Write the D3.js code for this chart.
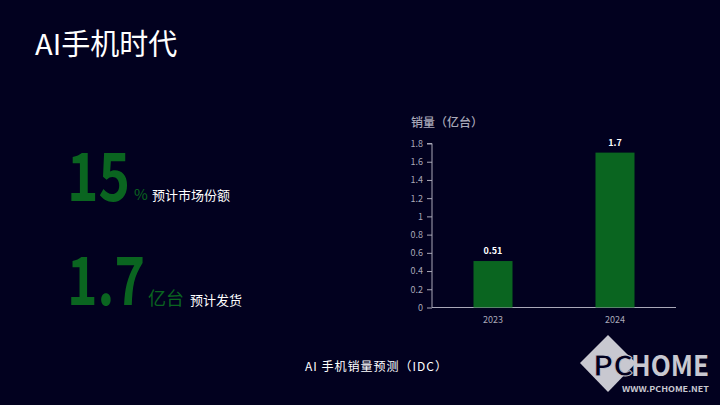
<!DOCTYPE html>
<html><head><meta charset="utf-8">
<script src="https://cdn.jsdelivr.net/npm/d3@7"></script>
<style>
html,body{margin:0;padding:0;background:#02011f;}
svg{display:block;}
text{font-family:"Noto Sans CJK SC","Noto Sans",sans-serif;}
</style></head>
<body>
<script>
const categories = ["2023", "2024"];
const sales = [0.51, 1.7];
const valueLabels = ["0.51", "1.7"];
const yTicks = [0, 0.2, 0.4, 0.6, 0.8, 1, 1.2, 1.4, 1.6, 1.8];

const W = 720, H = 405;
const bg = "#02011f", green = "#0a6520", grey = "#a9a8b8";
const svg = d3.select("body").append("svg").attr("width", W).attr("height", H);
svg.append("rect").attr("width", W).attr("height", H).attr("fill", bg);

// Title
svg.append("text").attr("x", 35).attr("y", 55).attr("fill", "#fff")
  .attr("font-size", 29).attr("font-weight", 400).text("AI手机时代");

// Big stats (horizontally scaled to fit the reference widths)
const bigFont = "'Noto Sans CJK SC',sans-serif";
function bigNumber(str, x, y, targetW) {
  const g = svg.append("g");
  const t = g.append("text").attr("x", 0).attr("y", 0).attr("fill", green)
    .attr("font-size", 66).attr("font-weight", 700).attr("font-family", bigFont).text(str);
  const w = t.node().getComputedTextLength() || targetW;
  g.attr("transform", `translate(${x},${y}) scale(${targetW / w},1)`);
}
bigNumber("15", 67, 201, 63);
svg.append("text").attr("x", 134).attr("y", 200).attr("fill", green)
  .attr("font-size", 15).text("%");
svg.append("text").attr("x", 152).attr("y", 200).attr("fill", "#fff").attr("font-size", 13).text("预计市场份额");

bigNumber("1.7", 67, 305, 78);
svg.append("text").attr("x", 148).attr("y", 305).attr("fill", green)
  .attr("font-size", 18).text("亿台");
svg.append("text").attr("x", 190).attr("y", 305).attr("fill", "#fff").attr("font-size", 13).text("预计发货");

// Chart
const x0 = 432, x1 = 676, yTop = 143.5, yBase = 307.5;
const x = d3.scaleBand().domain(categories).range([x0, x1]).paddingInner(0.68).paddingOuter(0.34);
const y = d3.scaleLinear().domain([0, 1.8]).range([yBase, yTop]);

svg.append("text").attr("x", 411).attr("y", 127).attr("fill", grey)
  .attr("font-size", 12).attr("font-weight", 500).text("销量（亿台）");

const yAxis = svg.append("g").attr("transform", `translate(${x0},0)`)
  .call(d3.axisLeft(y).tickValues(yTicks).tickSize(5).tickPadding(4).tickFormat(d3.format("~g")));
yAxis.select(".domain").attr("stroke", grey).attr("d", `M-5,${yTop}H0V${yBase}`);
yAxis.selectAll(".tick line").attr("stroke", grey);
yAxis.selectAll(".tick text").attr("fill", grey).attr("font-size", 9).attr("font-family", "'Open Sans',sans-serif");

const xAxis = svg.append("g").attr("transform", `translate(0,${yBase})`)
  .call(d3.axisBottom(x).tickSize(0).tickPadding(9));
xAxis.select(".domain").attr("stroke", grey).attr("d", `M${x0},0H${x1}`);
xAxis.selectAll(".tick text").attr("fill", grey).attr("font-size", 9).attr("font-family", "'Open Sans',sans-serif");

svg.selectAll("rect.bar").data(sales).enter().append("rect").attr("class", "bar")
  .attr("x", (d, i) => x(categories[i])).attr("width", x.bandwidth())
  .attr("y", d => y(d)).attr("height", d => yBase - y(d)).attr("fill", "#0a6520");

svg.selectAll("text.val").data(sales).enter().append("text").attr("class", "val")
  .attr("x", (d, i) => x(categories[i]) + x.bandwidth() / 2).attr("y", d => y(d) - 7)
  .attr("text-anchor", "middle").attr("fill", "#fff").attr("font-size", 9)
  .attr("font-family", "'Open Sans',sans-serif").attr("font-weight", 600)
  .text((d, i) => valueLabels[i]);

// Caption
svg.append("text").attr("x", 305).attr("y", 371).attr("fill", "#fff").attr("font-size", 12)
  .attr("letter-spacing", 1).text("AI 手机销量预测（IDC）");

// Logo
const logo = svg.append("g");
const lg = "#c8c8d0";
logo.append("path").attr("d", "M580,363L608,335L636,363L608,392Z").attr("fill", lg);
logo.append("text").attr("x", 593).attr("y", 376).attr("fill", bg).attr("stroke", lg).attr("stroke-width", 0.8)
  .attr("font-size", 28).attr("font-weight", 700)
  .attr("font-family", "'DejaVu Sans Condensed','Liberation Sans Narrow',sans-serif")
  .attr("textLength", 40).attr("lengthAdjust", "spacingAndGlyphs").text("PC");
logo.append("text").attr("x", 631).attr("y", 376).attr("fill", lg).attr("font-size", 28)
  .attr("font-weight", 700).attr("font-family", "'DejaVu Sans Condensed','Liberation Sans Narrow',sans-serif")
  .attr("textLength", 78).attr("lengthAdjust", "spacingAndGlyphs").text("HOME");
logo.append("text").attr("x", 622).attr("y", 392).attr("fill", lg).attr("font-size", 8)
  .attr("font-weight", 700).attr("font-family", "'DejaVu Sans','Liberation Sans',sans-serif")
  .attr("textLength", 87).attr("lengthAdjust", "spacingAndGlyphs").text("WWW.PCHOME.NET");
</script>
</body></html>
